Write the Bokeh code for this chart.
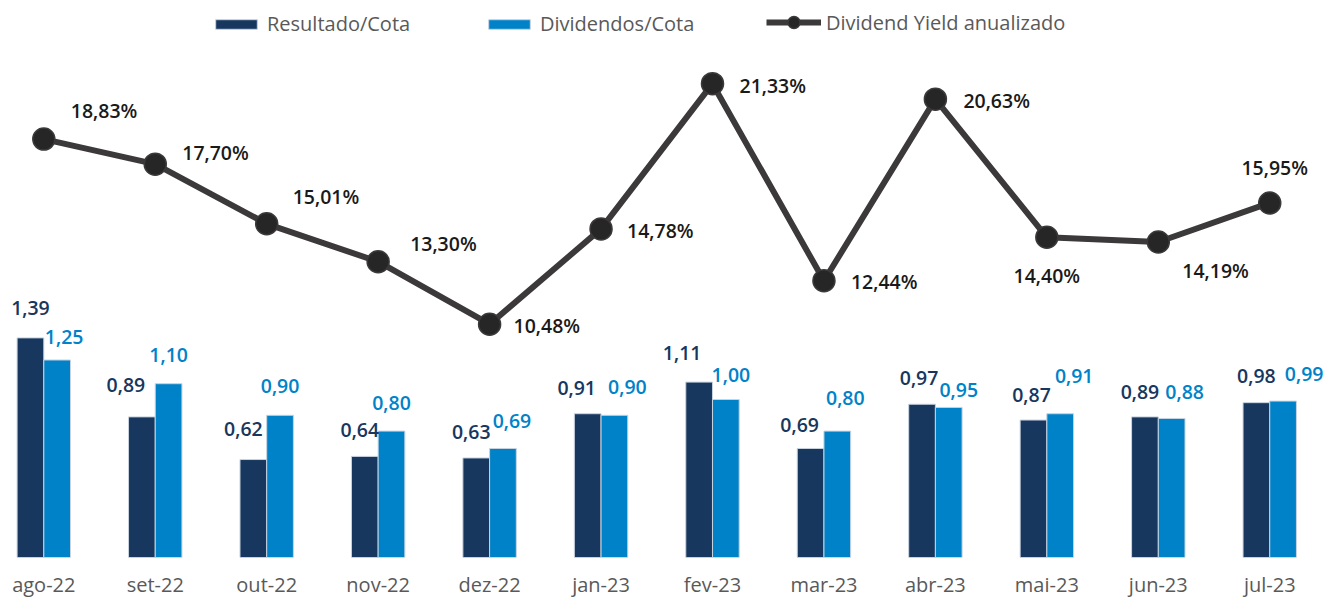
import numpy as np
from bokeh.plotting import figure
from bokeh.models import (ColumnDataSource, Range1d, FixedTicker, Legend, LegendItem)
from bokeh.core.properties import value
from bokeh.embed import file_html
from bokeh.resources import INLINE

# ---- data ----
months = ["ago-22", "set-22", "out-22", "nov-22", "dez-22", "jan-23",
          "fev-23", "mar-23", "abr-23", "mai-23", "jun-23", "jul-23"]
resultado = [1.39, 0.89, 0.62, 0.64, 0.63, 0.91, 1.11, 0.69, 0.97, 0.87, 0.89, 0.98]
dividendos = [1.25, 1.10, 0.90, 0.80, 0.69, 0.90, 1.00, 0.80, 0.95, 0.91, 0.88, 0.99]
dy_anual = [18.83, 17.70, 15.01, 13.30, 10.48, 14.78, 21.33, 12.44, 20.63, 14.40, 14.19, 15.95]

# ---- label placement (screen-pixel offsets, layout only) ----
dy_lbl_dx = [27, 27, 26, 32, 24, 26, 27, 27, 28, 0, 24, 5]
dy_lbl_dy = [-29, -12, -27, -18, 1, 2, 2, 1, 1, 38, 29, -35]
dy_lbl_align = ["left"] * 9 + ["center", "left", "center"]
res_lbl_dx = [0, -16, -10, -5, -5, -11, -17, -11, -3, -2, -5, 0]
res_lbl_dy = [-30, -32, -31, -26, -26, -26, -29, -23, -26, -25, -25, -27]
div_lbl_dx = [7, 0, 0, 0, 9, 13, 5, 8, 10, 14, 13, 21]
div_lbl_dy = [-23, -29, -29, -28, -27, -28, -24, -33, -17, -38, -26, -27]

C_RES = "#17375E"
C_DIV = "#0082C8"
C_LINE = "#3B3939"
FONT = "Open Sans"
FONT_SB = "Open Sans SemiBold"

def br(v):
    return f"{v:.2f}".replace(".", ",")

xi = np.arange(len(months))
bw = 0.2396
src = ColumnDataSource(dict(
    x=xi, x_res=xi - bw / 2, x_div=xi + bw / 2,
    res=resultado, div=dividendos, dy=dy_anual,
    res_lbl=[br(v) for v in resultado],
    div_lbl=[br(v) for v in dividendos],
    dy_lbl=[br(v) + "%" for v in dy_anual],
    dx_off=dy_lbl_dx, dy_off=dy_lbl_dy, align=dy_lbl_align,
    rdx=res_lbl_dx, rdy=res_lbl_dy, ddx=div_lbl_dx, ddy=div_lbl_dy,
))

W, H = 1327, 600
p = figure(width=W, height=H, output_backend="svg", toolbar_location=None,
           x_range=Range1d(-0.3885, 11.5182), y_range=Range1d(0, 3.5253),
           y_axis_location=None, min_border_left=0, min_border_right=0,
           min_border_top=0, min_border_bottom=43)
p.extra_y_ranges = {"dy": Range1d(-0.04, 25.08)}
p.outline_line_color = None
p.xgrid.visible = False
p.ygrid.visible = False
p.background_fill_color = "white"
p.border_fill_color = "white"

ax = p.xaxis[0]
ax.ticker = FixedTicker(ticks=list(range(len(months))))
ax.major_label_overrides = {i: m for i, m in enumerate(months)}
ax.axis_line_color = None
ax.major_tick_line_color = None
ax.minor_tick_line_color = None
ax.major_tick_out = 0
ax.major_tick_in = 0
ax.major_label_standoff = 13
ax.major_label_text_line_height = 1.0
ax.major_label_text_font = FONT
ax.major_label_text_font_size = "20px"
ax.major_label_text_color = "#595959"

r_res = p.vbar(x="x_res", top="res", width=bw, source=src, fill_color=C_RES,
               line_color="#C9D3DF", line_width=1)
r_div = p.vbar(x="x_div", top="div", width=bw, source=src, fill_color=C_DIV,
               line_color="#C9D3DF", line_width=1)

r_line = p.line(x="x", y="dy", source=src, y_range_name="dy", line_width=6,
                line_color=C_LINE)
r_pts = p.scatter(x="x", y="dy", source=src, y_range_name="dy", size=22,
                  fill_color="#262626", line_color=C_LINE, line_width=1.5)

# bar labels
p.text(x="x_res", y="res", text="res_lbl", source=src, x_offset="rdx", y_offset="rdy",
       text_align="center", text_baseline="middle", text_color=C_RES,
       text_font=value(FONT_SB), text_font_size="19.5px")
p.text(x="x_div", y="div", text="div_lbl", source=src, x_offset="ddx", y_offset="ddy",
       text_align="center", text_baseline="middle", text_color=C_DIV,
       text_font=value(FONT_SB), text_font_size="19.5px")

# dividend yield labels
p.text(x="x", y="dy", text="dy_lbl", source=src, y_range_name="dy",
       x_offset="dx_off", y_offset="dy_off", text_align="align",
       text_baseline="middle", text_color="#1A1A1A",
       text_font=value(FONT_SB), text_font_size="19.5px")

def mk_legend(label, renderers, x, y, gw, gh):
    lg = Legend(items=[LegendItem(label=label, renderers=renderers)],
                location=(x, y), orientation="horizontal",
                glyph_width=gw, glyph_height=gh, label_standoff=5,
                padding=0, margin=0, spacing=0,
                background_fill_alpha=0, border_line_alpha=0,
                label_text_font=FONT, label_text_font_size="20px",
                label_text_color="#595959")
    p.add_layout(lg)

mk_legend("Resultado/Cota", [r_res], 210, 520, 52, 12)
mk_legend("Dividendos/Cota", [r_div], 483, 520, 52, 12)
mk_legend("Dividend Yield anualizado", [r_line, r_pts], 766, 520, 55, 30)

open("out.html", "w").write(file_html(p, INLINE))
